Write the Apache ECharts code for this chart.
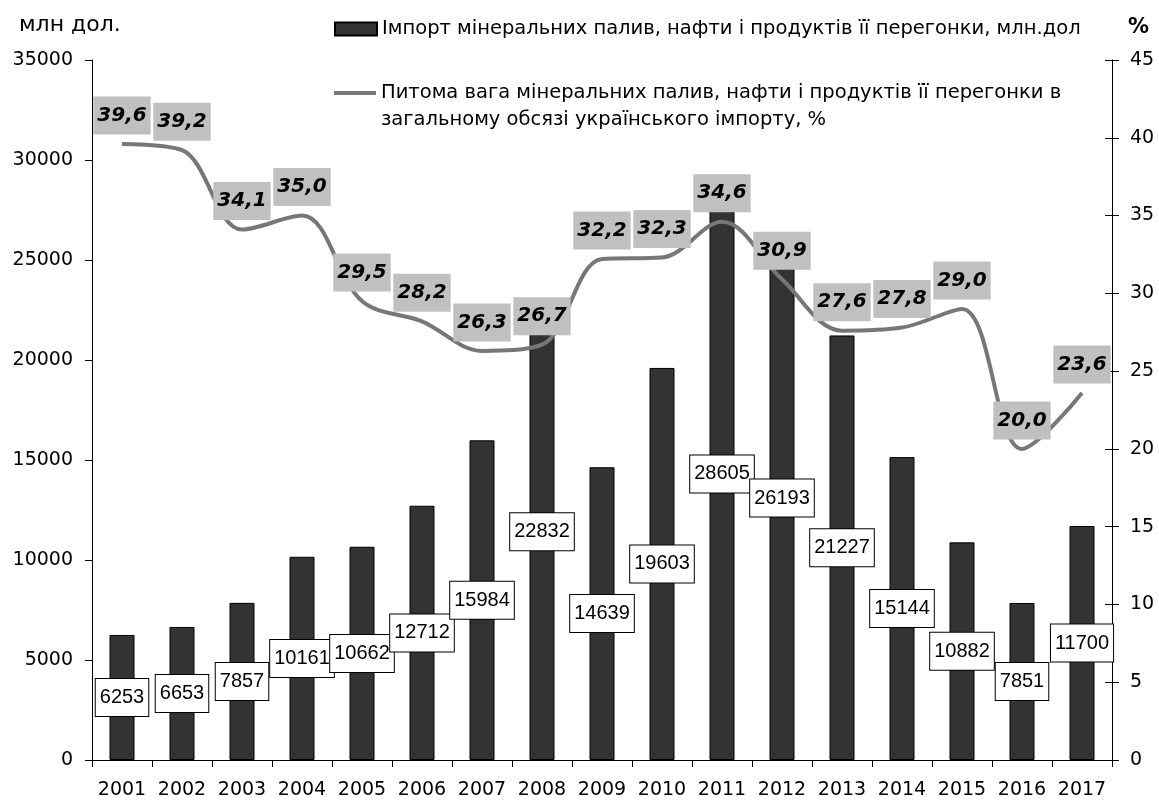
<!DOCTYPE html>
<html>
<head>
<meta charset="utf-8">
<script src="https://cdn.jsdelivr.net/npm/echarts@6/dist/echarts.min.js"></script>
<style>
html,body{margin:0;padding:0;background:#fff;}
#chart{width:1159px;height:802px;}
</style>
</head>
<body>
<div id="chart"></div>
<script>
const years = ['2001','2002','2003','2004','2005','2006','2007','2008','2009','2010','2011','2012','2013','2014','2015','2016','2017'];
const importValues = [6253, 6653, 7857, 10161, 10662, 12712, 15984, 22832, 14639, 19603, 28605, 26193, 21227, 15144, 10882, 7851, 11700];
const shareValues = [39.6, 39.2, 34.1, 35.0, 29.5, 28.2, 26.3, 26.7, 32.2, 32.3, 34.6, 30.9, 27.6, 27.8, 29.0, 20.0, 23.6];
const barName = 'Імпорт мінеральних палив, нафти і продуктів її перегонки, млн.дол';
const lineName = 'Питома вага мінеральних палив, нафти і продуктів її перегонки в\nзагальному обсязі українського імпорту, %';
const leftAxisName = 'млн дол.';
const rightAxisName = '%';

const FONT = "'DejaVu Sans', 'Liberation Sans', sans-serif";
const FONT2 = "'Liberation Sans', Arial, sans-serif";
const chart = echarts.init(document.getElementById('chart'), null, {renderer: 'canvas'});
const plain = v => String(v);
const axisCommon = {
  axisLine: {show: true, lineStyle: {color: '#000', width: 1}},
  axisTick: {show: true, length: 7, lineStyle: {color: '#000', width: 1}},
  splitLine: {show: false},
  axisLabel: {color: '#000', fontSize: 19, fontFamily: FONT, margin: 19, formatter: plain}
};
chart.setOption({
  animation: false,
  backgroundColor: '#fff',
  textStyle: {fontFamily: FONT},
  title: [
    {text: leftAxisName, left: 14, top: 9, textStyle: {fontSize: 22, fontWeight: 'normal', color: '#000', fontFamily: FONT}},
    {text: rightAxisName, right: 5, top: 12, textStyle: {fontSize: 21, fontWeight: 'bold', color: '#000', fontFamily: FONT}}
  ],
  legend: [
    {
      data: [{name: barName, icon: 'rect'}], left: 329, top: 14, itemWidth: 42, itemHeight: 13,
      textStyle: {fontSize: 19.5, color: '#000', fontFamily: FONT}, selectedMode: false
    },
    {
      data: [{name: lineName, icon: 'path://M0,0h42v4h-42zM0,30', itemStyle: {color: '#777777'}}],
      left: 329, top: 74, itemWidth: 42, itemHeight: 30, symbolKeepAspect: false,
      textStyle: {fontSize: 19.5, color: '#000', fontFamily: FONT, lineHeight: 27}, selectedMode: false
    }
  ],
  grid: {left: 92, right: 47, top: 60, bottom: 42},
  xAxis: Object.assign({}, axisCommon, {
    type: 'category', data: years,
    axisLabel: {color: '#000', fontSize: 19, fontFamily: FONT, margin: 21, interval: 0}
  }),
  yAxis: [
    Object.assign({}, axisCommon, {type: 'value', position: 'left', min: 0, max: 35000, interval: 5000}),
    Object.assign({}, axisCommon, {type: 'value', position: 'right', min: 0, max: 45, interval: 5,
      axisLabel: {color: '#000', fontSize: 19, fontFamily: FONT, margin: 18, formatter: plain}}),
    {type: 'value', position: 'right', min: 0, max: 45, interval: 5,
      axisLine: {show: false}, axisLabel: {show: false}, splitLine: {show: false},
      axisTick: {show: true, inside: true, length: 7, lineStyle: {color: '#000', width: 1}}}
  ],
  series: [
    {
      name: barName, type: 'bar', data: importValues, yAxisIndex: 0, barWidth: 25, z: 2,
      itemStyle: {color: '#333333', borderColor: '#000', borderWidth: 1},
      label: {
        show: true, position: 'inside', color: '#000', fontSize: 20, fontFamily: FONT2,
        backgroundColor: '#fff', borderColor: '#000', borderWidth: 1, padding: [9, 4, 8, 4]
      }
    },
    {
      name: lineName, type: 'line', data: shareValues, yAxisIndex: 1, smooth: 0.35, z: 3,
      symbol: 'circle', showSymbol: true, symbolSize: 1,
      lineStyle: {color: '#777777', width: 4},
      itemStyle: {color: 'rgba(0,0,0,0)'},
      label: {
        show: true, position: 'top', distance: 9, color: '#000', fontSize: 20, fontWeight: 'bold', fontStyle: 'italic',
        fontFamily: FONT, backgroundColor: '#c0c0c0', padding: [9, 4, 9, 4],
        formatter: p => p.value.toFixed(1).replace('.', ',')
      }
    }
  ]
});
</script>
</body>
</html>
